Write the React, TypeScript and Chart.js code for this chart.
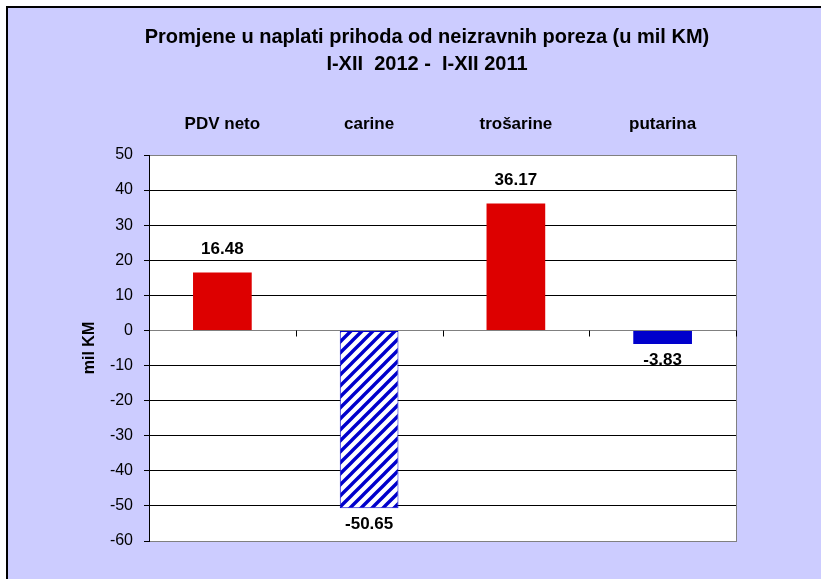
import React, { useEffect, useRef } from 'react';
import { Chart, registerables } from 'chart.js';

Chart.register(...registerables);

const categories = ['PDV neto', 'carine', 'trošarine', 'putarina'];
const changes = [16.48, -50.65, 36.17, -3.83];
const valueLabels = ['16.48', '-50.65', '36.17', '-3.83'];
const titleLines = [
  'Promjene u naplati prihoda od neizravnih poreza (u mil KM)',
  'I-XII  2012 -  I-XII 2011',
];
const yAxisTitle = 'mil KM';
const yMin = -60;
const yMax = 50;
const yStep = 10;

const FONT = "'Liberation Sans', Arial, Helvetica, sans-serif";
const W = 821;
const H = 579;

function makeHatch(): CanvasPattern | string {
  const s = 11;
  const c = document.createElement('canvas');
  c.width = s;
  c.height = s;
  const g = c.getContext('2d');
  if (!g) return '#0000cc';
  g.fillStyle = '#ffffff';
  g.fillRect(0, 0, s, s);
  g.strokeStyle = '#0000cc';
  g.lineWidth = 3.4;
  g.lineCap = 'square';
  g.beginPath();
  g.moveTo(-2, s + 2);
  g.lineTo(s + 2, -2);
  g.moveTo(-2, 2);
  g.lineTo(2, -2);
  g.moveTo(s - 2, s + 2);
  g.lineTo(s + 2, s - 2);
  g.stroke();
  const p = g.createPattern(c, 'repeat');
  return p || '#0000cc';
}

const framePlugin = {
  id: 'frame',
  beforeDraw(chart: any) {
    const { ctx, width, height, chartArea: a } = chart;
    ctx.save();
    ctx.fillStyle = '#ffffff';
    ctx.fillRect(0, 0, width, height);
    ctx.fillStyle = '#ccccff';
    ctx.fillRect(7, 7, width, height);
    ctx.strokeStyle = '#000000';
    ctx.lineWidth = 2;
    ctx.beginPath();
    ctx.moveTo(7, height + 5);
    ctx.lineTo(7, 7);
    ctx.lineTo(width + 5, 7);
    ctx.stroke();
    ctx.fillStyle = '#ffffff';
    ctx.fillRect(a.left, a.top, a.right - a.left, a.bottom - a.top);
    ctx.fillStyle = '#000000';
    ctx.font = `bold 20px ${FONT}`;
    ctx.textAlign = 'center';
    ctx.textBaseline = 'middle';
    titleLines.forEach((t, i) => ctx.fillText(t, 427, 37 + i * 27));
    ctx.restore();
  },
  beforeDatasetsDraw(chart: any) {
    const { ctx, chartArea: a } = chart;
    ctx.save();
    ctx.strokeStyle = '#808080';
    ctx.lineWidth = 1;
    const rx = Math.round(a.right) + 0.5;
    ctx.beginPath();
    ctx.moveTo(rx, a.top);
    ctx.lineTo(rx, a.bottom + 1);
    ctx.stroke();
    ctx.restore();
  },
  afterDatasetsDraw(chart: any) {
    const { ctx } = chart;
    const xs = chart.scales.x;
    const ys = chart.scales.y;
    const zeroY = Math.round(ys.getPixelForValue(0)) + 0.5;
    const half = (xs.getPixelForValue(1) - xs.getPixelForValue(0)) / 2;
    ctx.save();
    ctx.strokeStyle = '#000000';
    ctx.lineWidth = 1;
    for (let i = 0; i <= categories.length; i++) {
      const bx = Math.round(xs.getPixelForValue(0) - half + i * 2 * half) + 0.5;
      ctx.beginPath();
      ctx.moveTo(bx, zeroY);
      ctx.lineTo(bx, zeroY + 6);
      ctx.stroke();
    }
    const meta = chart.getDatasetMeta(0);
    ctx.fillStyle = '#000000';
    ctx.font = `bold 17px ${FONT}`;
    ctx.textAlign = 'center';
    ctx.textBaseline = 'middle';
    meta.data.forEach((el: any, i: number) => {
      const v = changes[i];
      const ty = v >= 0 ? el.y - 23 : el.y + 16;
      ctx.fillText(valueLabels[i], el.x, ty);
    });
    ctx.restore();
  },
};

export default function App() {
  const ref = useRef<HTMLCanvasElement | null>(null);

  useEffect(() => {
    if (!ref.current) return;
    Chart.defaults.font.family = FONT;
    const hatch = makeHatch();
    const red = '#dd0000';
    const blue = '#0000cc';
    const fills = [red, hatch, red, blue];
    const borders = [red, blue, red, blue];
    const borderWidths = [0, 1, 0, 0];

    const chart = new Chart(ref.current, {
      type: 'bar',
      data: {
        labels: categories,
        datasets: [
          {
            data: changes,
            backgroundColor: fills as any,
            borderColor: borders,
            borderWidth: borderWidths,
            borderSkipped: false,
            barPercentage: 1,
            categoryPercentage: 0.4,
          },
        ],
      },
      options: {
        responsive: false,
        animation: false,
        layout: { padding: { top: 0, left: 0, right: 85, bottom: 38 } },
        plugins: {
          legend: { display: false },
          tooltip: { enabled: false },
          title: { display: false },
        },
        scales: {
          x: {
            position: 'top',
            grid: { display: false, drawTicks: false },
            border: { display: false },
            ticks: {
              color: '#000000',
              font: { size: 17, weight: 'bold' },
              padding: 20,
              maxRotation: 0,
              autoSkip: false,
            },
            afterFit(scale: any) {
              scale.height = 155;
            },
          },
          y: {
            min: yMin,
            max: yMax,
            ticks: {
              stepSize: yStep,
              color: '#000000',
              font: { size: 16 },
              padding: 11,
            },
            grid: {
              color: (c: any) =>
                c.tick && (c.tick.value === 0 || c.tick.value === yMax || c.tick.value === yMin)
                  ? '#808080'
                  : '#000000',
              tickColor: '#000000',
              tickLength: 5,
              drawTicks: true,
              lineWidth: 1,
            },
            border: { display: true, color: '#000000', width: 1 },
            title: {
              display: true,
              text: yAxisTitle,
              color: '#000000',
              font: { size: 16, weight: 'bold' },
              padding: { top: 80, bottom: 0 },
            },
            afterFit(scale: any) {
              scale.width = 149;
            },
          },
        },
      },
      plugins: [framePlugin],
    });
    return () => chart.destroy();
  }, []);

  return (
    <div style={{ position: 'fixed', left: 0, top: 0, width: W, height: H }}>
      <canvas ref={ref} width={W} height={H} style={{ display: 'block', width: W, height: H }} />
    </div>
  );
}
